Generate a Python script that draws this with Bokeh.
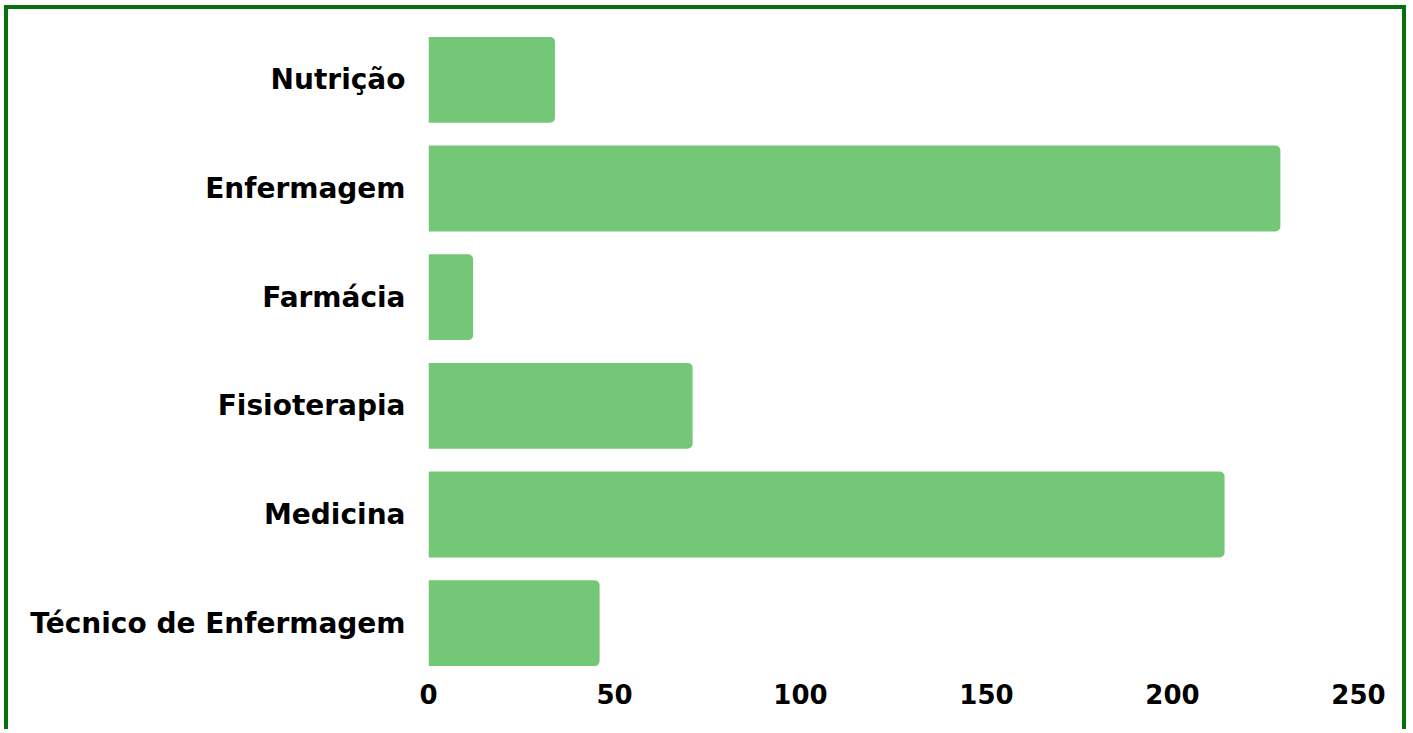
from bokeh.plotting import figure
from bokeh.models import FactorRange, Range1d, FixedTicker, ColumnDataSource
from bokeh.embed import file_html
from bokeh.resources import INLINE

categories = ["Nutrição", "Enfermagem", "Farmácia", "Fisioterapia", "Medicina", "Técnico de Enfermagem"]
values = [34, 229, 12, 71, 214, 46]
x_ticks = [0, 50, 100, 150, 200, 250]

FONT = "DejaVu Sans"
BAR = "#74c776"
BORDER = "#07700b"

src = ColumnDataSource(dict(cat=categories, val=values))

p = figure(
    width=1402, height=724,
    y_range=FactorRange(*reversed(categories), range_padding=0),
    x_range=Range1d(0, 250),
    output_backend="svg", toolbar_location=None,
    min_border_left=420, min_border_right=52, min_border_top=16, min_border_bottom=56,
    styles={"border": "4px solid " + BORDER, "border-bottom": "none",
            "margin-left": "4px", "margin-top": "5px"},
)
p.hbar(y="cat", right="val", left=0, height=0.79, source=src,
       fill_color=BAR, line_color=None, border_radius=(0, 5, 5, 0))

p.outline_line_color = None
p.xgrid.grid_line_color = None
p.ygrid.grid_line_color = None

for ax in (p.xaxis[0], p.yaxis[0]):
    ax.axis_line_color = None
    ax.major_tick_line_color = None
    ax.minor_tick_line_color = None
    ax.major_label_text_font = FONT
    ax.major_label_text_font_style = "bold"
    ax.major_label_text_color = "#000000"

p.xaxis.major_label_text_font_size = "26px"
p.yaxis.major_label_text_font_size = "28px"
p.xaxis.ticker = FixedTicker(ticks=x_ticks)
p.xaxis.major_label_standoff = 0
p.yaxis.major_label_standoff = 17

open("out.html", "w").write(file_html(p, INLINE))
